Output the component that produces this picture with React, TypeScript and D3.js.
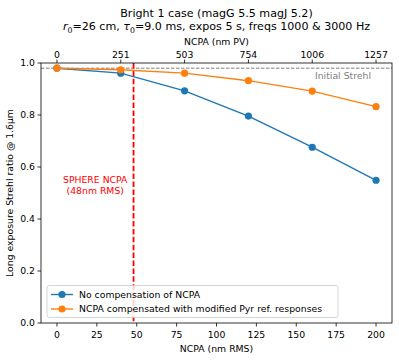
import React from "react";
import * as d3 from "d3";

const ncpaRms = [0, 40, 80, 120, 160, 200];
const noComp = [0.98, 0.961, 0.893, 0.796, 0.676, 0.549];
const compensated = [0.98, 0.974, 0.961, 0.932, 0.892, 0.832];
const xTicks = [0, 25, 50, 75, 100, 125, 150, 175, 200];
const yTicks = [0, 0.2, 0.4, 0.6, 0.8, 1.0];
const pvTickRms = [0, 40, 80, 120, 160, 200];
const pvTickLabels = ["0", "251", "503", "754", "1006", "1257"];
const initialStrehl = 0.98;
const sphereNcpa = 48;

const W = 399, H = 360;
const M = { left: 41, right: 392, top: 63, bottom: 323 };
const FONT = "DejaVu Sans, sans-serif";
const FS = 9.3;
const TFS = 11.1;

export default function App() {
  const x = d3.scaleLinear().domain([-10, 210]).range([M.left, M.right]);
  const y = d3.scaleLinear().domain([0, 1]).range([M.bottom, M.top]);
  const line = d3.line<number>().x((_, i) => x(ncpaRms[i])).y((d) => y(d));
  const series = [
    { name: "No compensation of NCPA", vals: noComp, color: "#1f77b4" },
    { name: "NCPA compensated with modified Pyr ref. responses", vals: compensated, color: "#ff7f0e" },
  ];
  const cx = (M.left + M.right) / 2;
  return (
    <svg width={W} height={H} style={{ position: "absolute", left: 0, top: 0, background: "#fff" }} fontFamily={FONT}>
      <rect x={0} y={0} width={W} height={H} fill="#fff" />
      <text x={cx} y={17} textAnchor="middle" fontSize={TFS}>Bright 1 case (magG 5.5 magJ 5.2)</text>
      <text x={cx} y={30} textAnchor="middle" fontSize={TFS}>
        <tspan fontStyle="italic">r</tspan>
        <tspan fontSize={7.8} dy={2.5}>0</tspan>
        <tspan dy={-2.5}>=26 cm, </tspan>
        <tspan fontStyle="italic">τ</tspan>
        <tspan fontSize={7.8} dy={2.5}>0</tspan>
        <tspan dy={-2.5}>=9.0 ms, expos 5 s, freqs 1000 &amp; 3000 Hz</tspan>
      </text>
      <text x={cx} y={45} textAnchor="middle" fontSize={FS}>NCPA (nm PV)</text>
      {/* top axis */}
      {pvTickRms.map((v, i) => (
        <g key={"pv" + i}>
          <line x1={x(v)} x2={x(v)} y1={M.top} y2={M.top - 3.5} stroke="#000" strokeWidth={0.8} />
          <text x={x(v)} y={M.top - 5.5} textAnchor="middle" fontSize={FS}>{pvTickLabels[i]}</text>
        </g>
      ))}
      {/* bottom axis */}
      {xTicks.map((v) => (
        <g key={"x" + v}>
          <line x1={x(v)} x2={x(v)} y1={M.bottom} y2={M.bottom + 3.5} stroke="#000" strokeWidth={0.8} />
          <text x={x(v)} y={M.bottom + 14.5} textAnchor="middle" fontSize={FS}>{v}</text>
        </g>
      ))}
      <text x={cx} y={352} textAnchor="middle" fontSize={FS}>NCPA (nm RMS)</text>
      {/* left axis */}
      {yTicks.map((v) => (
        <g key={"y" + v}>
          <line x1={M.left} x2={M.left - 3.5} y1={y(v)} y2={y(v)} stroke="#000" strokeWidth={0.8} />
          <text x={M.left - 6} y={y(v) + 3.3} textAnchor="end" fontSize={FS}>{v.toFixed(1)}</text>
        </g>
      ))}
      <text transform={`translate(13,${(M.top + M.bottom) / 2}) rotate(-90)`} textAnchor="middle" fontSize={FS}>
        Long exposure Strehl ratio @ 1.6μm
      </text>
      {/* initial strehl */}
      <line x1={M.left} x2={M.right} y1={y(initialStrehl)} y2={y(initialStrehl)} stroke="#808080" strokeWidth={1} strokeDasharray="3.5,1.5" />
      <text x={371} y={y(initialStrehl) + 11} textAnchor="end" fontSize={FS} fill="#808080">Initial Strehl</text>
      {/* sphere ncpa */}
      <line x1={x(sphereNcpa)} x2={x(sphereNcpa)} y1={M.top} y2={M.bottom} stroke="#ff0000" strokeWidth={1.8} strokeDasharray="5.5,2.4" />
      <text x={x(24)} y={183} textAnchor="middle" fontSize={FS} fill="#ff0000">SPHERE NCPA</text>
      <text x={x(24)} y={194} textAnchor="middle" fontSize={FS} fill="#ff0000">(48nm RMS)</text>
      {/* series */}
      {series.map((s) => (
        <g key={s.name}>
          <path d={line(s.vals) || ""} fill="none" stroke={s.color} strokeWidth={1.4} />
          {s.vals.map((v, i) => (
            <circle key={i} cx={x(ncpaRms[i])} cy={y(v)} r={3.6} fill={s.color} />
          ))}
        </g>
      ))}
      {/* frame */}
      <rect x={M.left} y={M.top} width={M.right - M.left} height={M.bottom - M.top} fill="none" stroke="#000" strokeWidth={0.8} />
      {/* legend */}
      <rect x={47} y={285.5} width={291} height={32} rx={2.5} fill="#fff" fillOpacity={0.8} stroke="#cccccc" strokeWidth={0.8} />
      {series.map((s, i) => {
        const ly = 294.5 + i * 14.5;
        return (
          <g key={"lg" + i}>
            <line x1={51} x2={73} y1={ly} y2={ly} stroke={s.color} strokeWidth={1.4} />
            <circle cx={62} cy={ly} r={3.6} fill={s.color} />
            <text x={79} y={ly + 3.3} fontSize={FS}>{s.name}</text>
          </g>
        );
      })}
    </svg>
  );
}
